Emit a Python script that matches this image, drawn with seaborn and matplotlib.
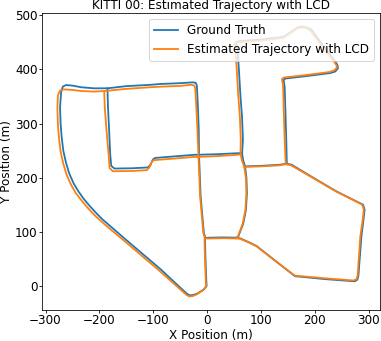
#!/usr/bin/env python3

# import libraries
import numpy as np
import matplotlib
matplotlib.use('Agg')
import matplotlib.pyplot as plt
import pandas as pd
import seaborn as sns

# trajectory pieces (metres), ground truth + LCD estimate
# west loop: centre junction -> start -> big left curve -> top -> back down
gt_west_x = [-15, -12, -6, -4, -3, -1, -6, -18, -25, -31, -36, -43, -86, -151, -180, -194, -206, -218, -229, -239,
             -248, -256, -262, -267, -270, -272, -273, -271, -268, -262, -250, -234, -210, -185, -150, -105, -86, -50,
             -26, -21, -19, -17, -15.5, -15]
gt_west_y = [242, 166, 98, 92, 50, 0, -6, -13.5, -16, -17, -15, -9, 31, 86, 111, 123, 135, 148, 161, 175,
             190, 208, 228, 250, 275, 300, 330, 358, 368, 371, 370, 367, 365, 365, 369, 371.5, 373, 374.5,
             376, 375, 370, 330, 289, 242]
est_west_x = [-16, -13, -7, -5, -4, -2, -7, -19, -26, -32, -37, -44, -88, -153, -183, -197, -210, -222, -233, -244,
              -253, -261, -267, -272, -275, -277, -278, -277, -273, -266, -250, -234, -210, -190, -150, -105, -86, -50,
              -29, -24, -22, -20, -18, -16]
est_west_y = [239, 166, 98, 92, 50, 0, -7, -15, -18, -19, -17, -11, 28, 83, 108, 120, 132, 145, 158, 172,
              188, 206, 226, 248, 273, 298, 328, 352, 361, 363, 362, 360, 359, 360, 364, 367, 368, 369.5,
              371.5, 370, 365, 330, 289, 239]

# middle block: top junction -> down -> step -> across to x~65
gt_mid_x = [-185, -184, -182, -180, -178, -172, -140, -110, -105, -101, -97, -60, -22, -15, 20, 50, 65]
gt_mid_y = [365, 330, 290, 245, 222, 217, 217.5, 219, 224, 233, 236.5, 239.5, 242.5, 242.5, 243.5, 245, 245.5]
est_mid_x = [-191, -190, -187, -183, -181, -175, -140, -112, -107, -103, -99, -60, -24, -16, 20, 50, 63]
est_mid_y = [359, 330, 290, 245, 218, 212, 212.5, 214, 219, 229, 232.5, 235.5, 238.5, 238.5, 240, 242, 243]

# centre street: top piece down to the lower junction, then west to start road
gt_cen_x = [54, 57, 59, 62, 65, 66.5, 65, 67, 70.5, 73, 74, 72, 67, 58, 54, 30, 5, -3]
gt_cen_y = [447, 430, 400, 350, 310, 270, 245, 232, 221, 200, 172, 140, 115, 92, 89.5, 90, 89.5, 89]
est_cen_x = [50, 53, 55, 58, 61, 62.5, 62, 65, 69, 72, 73, 71, 66, 57, 53, 30, 5, -3]
est_cen_y = [445, 430, 400, 350, 310, 270, 244, 231, 220, 200, 172, 140, 115, 91, 88, 88.5, 88, 88]

# east: across to x~148, up, right, north-west diagonal, top back to centre street
gt_east_x = [70.5, 100, 135, 148, 147, 145.5, 144, 142, 145, 180, 228, 238, 243, 242, 237, 215, 194, 185, 176, 168,
             142, 100, 60, 55, 54]
gt_east_y = [221, 222, 224, 226, 270, 320, 368, 380, 383, 387, 393, 396, 402, 408, 416, 444, 473, 477.5, 479, 477,
             460, 455, 452, 451, 447]
est_east_x = [69, 100, 135, 146, 144, 142.5, 141, 139, 143, 180, 227, 236, 241, 240, 235, 213, 192, 184, 176, 168,
              142, 100, 58, 52, 50]
est_east_y = [220, 221, 223, 225, 270, 320, 370, 382, 385, 389, 395, 398, 403, 408, 415, 443, 471, 476, 477.5, 475.5,
              458, 453, 450, 449, 445]

# south-east loop
gt_se_x = [148, 157, 203, 240, 277, 289.5, 292.5, 290, 286.5, 281, 279, 274, 220, 163, 135.5, 92, 80, 62, 56]
gt_se_y = [226, 224, 196.5, 175, 156.5, 150.5, 141, 120, 92, 20, 12, 9, 13, 18.5, 40, 74, 80, 88, 89.5]
est_se_x = [146, 156, 202, 239, 276, 288, 291, 288.5, 284.5, 279.5, 277.5, 272, 220, 163, 135, 92, 80, 61, 54]
est_se_y = [225, 223, 196.5, 175, 156.5, 150.5, 141, 120, 92, 20, 13, 10.5, 14.5, 19.5, 40, 73.5, 79.5, 87.5, 88]

labels = ['Ground Truth', 'Estimated Trajectory with LCD']

# build one long table, one unit per piece
pieces = [
    (labels[0], 'west', gt_west_x, gt_west_y),
    (labels[0], 'mid', gt_mid_x, gt_mid_y),
    (labels[0], 'cen', gt_cen_x, gt_cen_y),
    (labels[0], 'east', gt_east_x, gt_east_y),
    (labels[0], 'se', gt_se_x, gt_se_y),
    (labels[1], 'west', est_west_x, est_west_y),
    (labels[1], 'mid', est_mid_x, est_mid_y),
    (labels[1], 'cen', est_cen_x, est_cen_y),
    (labels[1], 'east', est_east_x, est_east_y),
    (labels[1], 'se', est_se_x, est_se_y),
]
frames = []
for traj, seg, xs, ys in pieces:
    frames.append(pd.DataFrame({'traj': traj, 'seg': seg, 'x': xs, 'y': ys}))
df = pd.concat(frames, ignore_index=True)

plt.rcParams['font.size'] = 12
plt.rcParams['legend.fontsize'] = 12
plt.rcParams['xtick.major.size'] = 3
plt.rcParams['ytick.major.size'] = 3
plt.rcParams['xtick.major.pad'] = 1.5
plt.rcParams['ytick.major.pad'] = 1.5
plt.rcParams['axes.labelpad'] = 1.5

fig, ax = plt.subplots(figsize=(381 / 72, 341 / 72), dpi=72)
fig.subplots_adjust(left=42 / 381, right=380 / 381, bottom=31 / 341, top=328 / 341)

sns.lineplot(data=df, x='x', y='y', hue='traj', hue_order=labels, units='seg',
             estimator=None, sort=False, palette=['#1f77b4', '#ff7f0e'], linewidth=1.8, ax=ax)

sns.move_legend(ax, 'upper right', title=None)
ax.set_title('KITTI 00: Estimated Trajectory with LCD', fontsize=12, pad=4)
ax.set_xlabel('X Position (m)')
ax.set_ylabel('Y Position (m)')

plt.savefig('out.png', dpi=72)
